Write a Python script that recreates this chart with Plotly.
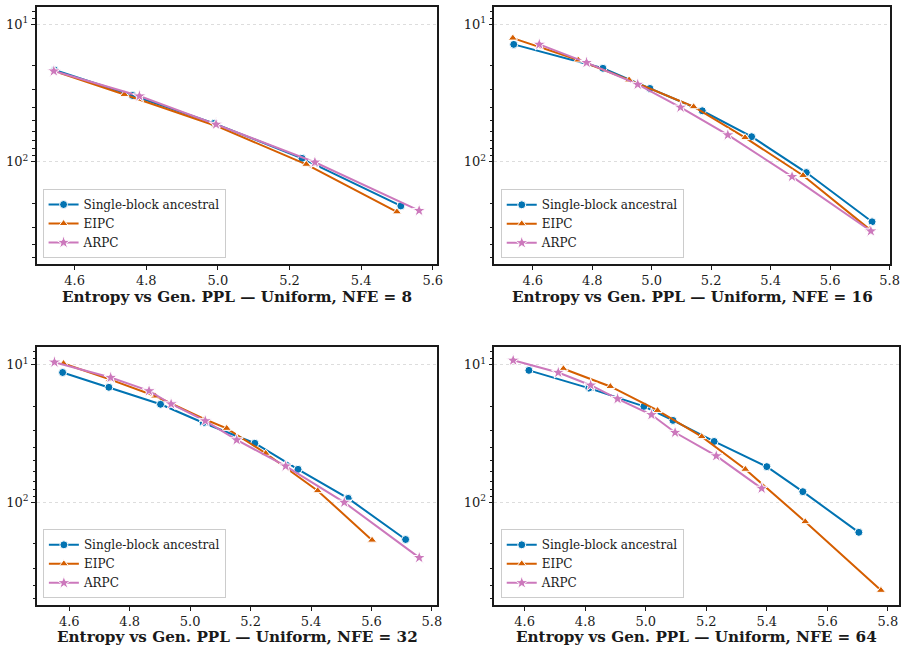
import plotly.graph_objects as go

# ---------------- data ----------------
nfe_values = [8, 16, 32, 64]
series_names = ["Single-block ancestral", "EIPC", "ARPC"]

# NFE = 8
nfe8_sba_entropy = [4.544, 4.762, 4.990, 5.235, 5.511]
nfe8_sba_ppl = [21.5, 33.0, 52.6, 94.6, 210]
nfe8_eipc_entropy = [4.545, 4.739, 4.994, 5.247, 5.500]
nfe8_eipc_ppl = [22.0, 32.4, 54.7, 104.5, 232]
nfe8_arpc_entropy = [4.542, 4.781, 4.995, 5.271, 5.562]
nfe8_arpc_ppl = [21.9, 33.3, 53.5, 101, 227]

# NFE = 16
nfe16_sba_entropy = [4.536, 4.836, 4.994, 5.170, 5.336, 5.520, 5.741]
nfe16_sba_ppl = [14.0, 20.9, 29.3, 42.6, 65.8, 120, 274]
nfe16_eipc_entropy = [4.533, 4.753, 4.924, 5.141, 5.314, 5.509, 5.733]
nfe16_eipc_ppl = [12.6, 18.2, 25.4, 39.8, 66.8, 126, 311]
nfe16_arpc_entropy = [4.622, 4.781, 4.953, 5.097, 5.256, 5.472, 5.737]
nfe16_arpc_ppl = [14.0, 19.0, 27.4, 40.2, 63.9, 128.5, 320]

# NFE = 32
nfe32_sba_entropy = [4.578, 4.731, 4.902, 5.043, 5.214, 5.357, 5.523, 5.713]
nfe32_sba_ppl = [11.4, 14.6, 19.4, 26.4, 37.2, 57.5, 93.5, 186]
nfe32_eipc_entropy = [4.581, 4.734, 4.884, 5.048, 5.121, 5.250, 5.422, 5.602]
nfe32_eipc_ppl = [9.8, 12.8, 16.9, 24.9, 29.0, 44.0, 82.2, 188]
nfe32_arpc_entropy = [4.551, 4.737, 4.864, 4.937, 5.050, 5.154, 5.316, 5.510, 5.758]
nfe32_arpc_ppl = [9.6, 12.4, 15.5, 19.3, 25.6, 35.2, 54.5, 100, 252]

# NFE = 64
nfe64_sba_entropy = [4.614, 4.812, 4.994, 5.090, 5.226, 5.400, 5.519, 5.704]
nfe64_sba_ppl = [11.0, 14.8, 20.1, 25.4, 36.1, 55.0, 83.6, 165]
nfe64_eipc_entropy = [4.728, 4.883, 5.039, 5.185, 5.329, 5.527, 5.777]
nfe64_eipc_ppl = [10.7, 14.4, 21.5, 33.3, 57.5, 138, 435]
nfe64_arpc_entropy = [4.562, 4.711, 4.818, 4.907, 5.019, 5.097, 5.233, 5.383]
nfe64_arpc_ppl = [9.3, 11.4, 14.1, 17.7, 23.1, 31.1, 46.0, 79.1]

x_tick_vals_8 = [4.6, 4.8, 5.0, 5.2, 5.4, 5.6]
x_tick_vals = [4.6, 4.8, 5.0, 5.2, 5.4, 5.6, 5.8]
y_major_vals = [10, 100]
y_major_text = ["10<sup>1</sup>", "10<sup>2</sup>"]
y_minor_vals = [8, 9, 20, 30, 40, 50, 60, 70, 80, 90, 200, 300, 400, 500]

panels = [
    (8, [(nfe8_sba_entropy, nfe8_sba_ppl), (nfe8_eipc_entropy, nfe8_eipc_ppl), (nfe8_arpc_entropy, nfe8_arpc_ppl)]),
    (16, [(nfe16_sba_entropy, nfe16_sba_ppl), (nfe16_eipc_entropy, nfe16_eipc_ppl), (nfe16_arpc_entropy, nfe16_arpc_ppl)]),
    (32, [(nfe32_sba_entropy, nfe32_sba_ppl), (nfe32_eipc_entropy, nfe32_eipc_ppl), (nfe32_arpc_entropy, nfe32_arpc_ppl)]),
    (64, [(nfe64_sba_entropy, nfe64_sba_ppl), (nfe64_eipc_entropy, nfe64_eipc_ppl), (nfe64_arpc_entropy, nfe64_arpc_ppl)]),
]

# ---------------- style ----------------
W, H = 917, 652
FONT = "DejaVu Serif"
colors = ["#0173b2", "#d55e00", "#cc78bc"]
symbols = ["circle", "triangle-up", "star"]
msizes = [8, 8, 10]

# plot boxes in pixels: (left, right, top, bottom)
boxes = [
    (37.0, 441.0, 7.0, 264.0),
    (499.3, 899.3, 7.0, 264.0),
    (37.3, 441.7, 347.3, 605.0),
    (499.3, 908.3, 347.3, 605.0),
]
xranges = [
    (4.494, 5.611),
    (4.471, 5.803),
    (4.493, 5.818),
    (4.500, 5.838),
]
title_y = [297, 297, 637, 637]
legend_pos = [(43.0, 258.0), (505.7, 258.3), (43.3, 598.3), (505.7, 598.3)]

fig = go.Figure()
layout = dict(
    width=W, height=H,
    margin=dict(l=0, r=0, t=0, b=0),
    paper_bgcolor="white", plot_bgcolor="white",
    font=dict(family=FONT, color="#1a1a1a", size=13),
    showlegend=True,
    annotations=[],
)

for i, (nfe, data) in enumerate(panels):
    k = "" if i == 0 else str(i + 1)
    xa = "x" + k
    ya = "y" + k
    leg = "legend" + k
    for j, (xs, ys) in enumerate(data):
        fig.add_trace(go.Scatter(
            x=xs, y=ys, mode="lines+markers", name=series_names[j],
            xaxis=xa, yaxis=ya, legend=leg,
            line=dict(color=colors[j], width=2),
            marker=dict(symbol=symbols[j], size=msizes[j], color=colors[j],
                        line=dict(color="white", width=1)),
        ))
    l, r, t, b = boxes[i]
    layout["xaxis" + k] = dict(
        domain=[l / W, r / W], anchor=ya, range=list(xranges[i]),
        tickvals=x_tick_vals_8 if i == 0 else x_tick_vals,
        ticktext=["%.1f" % v for v in (x_tick_vals_8 if i == 0 else x_tick_vals)],
        ticks="outside", ticklen=4, tickwidth=1, tickcolor="#1a1a1a",
        showgrid=False, zeroline=False,
        showline=True, linecolor="#1a1a1a", linewidth=1.6, mirror=True,
        tickfont=dict(family=FONT, size=13, color="#1a1a1a"),
    )
    layout["yaxis" + k] = dict(
        domain=[1 - b / H, 1 - t / H], anchor=xa, type="log",
        range=[2.745, 0.874],
        tickvals=y_major_vals, ticktext=y_major_text,
        ticks="outside", ticklen=4, tickwidth=1, tickcolor="#1a1a1a",
        showgrid=True, gridcolor="#dddddd", griddash="dot", gridwidth=0.8,
        zeroline=False,
        showline=True, linecolor="#1a1a1a", linewidth=1.6, mirror=True,
        tickfont=dict(family=FONT, size=13, color="#1a1a1a"),
        minor=dict(tickvals=y_minor_vals, ticks="outside", ticklen=2.5,
                   tickwidth=0.8, tickcolor="#1a1a1a", showgrid=False),
    )
    lx, lb = legend_pos[i]
    layout[leg] = dict(
        x=lx / W, y=1 - lb / H, xanchor="left", yanchor="bottom",
        bgcolor="rgba(255,255,255,0.8)", bordercolor="#cccccc", borderwidth=1,
        font=dict(family=FONT, size=12, color="#1a1a1a"),
        tracegroupgap=0, itemwidth=30,
    )
    layout["annotations"].append(dict(
        text="<b>Entropy vs Gen. PPL — Uniform, NFE = %d</b>" % nfe,
        x=(l + r) / 2 / W, y=1 - title_y[i] / H, xref="paper", yref="paper",
        xanchor="center", yanchor="middle", showarrow=False,
        font=dict(family=FONT, size=15.2, color="#1a1a1a"),
    ))

fig.update_layout(**layout)
fig.write_html("out.html")
